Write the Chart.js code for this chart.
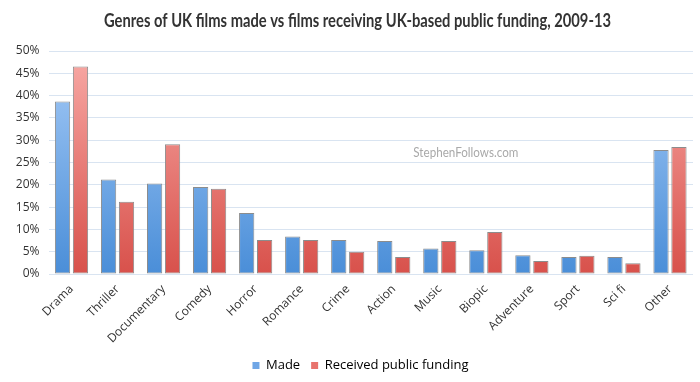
<!DOCTYPE html>
<html><head><meta charset="utf-8">
<script src="https://cdn.jsdelivr.net/npm/chart.js@4"></script>
<style>html,body{margin:0;padding:0;background:#fff}#wrap{width:700px;height:382px}</style>
</head><body><div id="wrap"><canvas id="c" width="700" height="382"></canvas></div>
<script>
const categories = ["Drama","Thriller","Documentary","Comedy","Horror","Romance","Crime","Action","Music","Biopic","Adventure","Sport","Sci fi","Other"];
const made = [38.7,21.2,20.3,19.5,13.7,8.4,7.6,7.4,5.7,5.3,4.2,3.8,3.8,27.8];
const funded = [46.5,16.2,29.1,19.1,7.6,7.6,5.0,3.8,7.4,9.4,2.9,4.1,2.4,28.5];
const yTicks = [0,5,10,15,20,25,30,35,40,45,50];
const seriesNames = ["Made","Received public funding"];
const titleText = 'Genres of UK films made vs films receiving UK-based public funding, 2009-13';
const watermarkText = 'StephenFollows.com';

function grad(top, bottom){
  return function(ctx){
    const ca = ctx.chart.chartArea;
    if(!ca) return bottom;
    const g = ctx.chart.ctx.createLinearGradient(0, ca.top, 0, ca.bottom);
    g.addColorStop(0, top); g.addColorStop(1, bottom);
    return g;
  };
}
function condensedText(c, text, font, cx, cy, targetW, color){
  c.save();
  c.font = font; c.fillStyle = color;
  c.textAlign = 'center'; c.textBaseline = 'middle';
  const w = c.measureText(text).width;
  const s = Math.min(1, targetW / w);
  c.translate(cx, cy); c.scale(s, 1);
  c.fillText(text, 0, 0);
  c.restore();
}
const extras = {
  id:'extras',
  afterLayout(chart){
    if(chart.legend){ chart.legend.left += 14; chart.legend.right += 14; }
  },
  afterDatasetsDraw(chart){
    const c = chart.ctx, x = chart.scales.x, y = chart.scales.y;
    condensedText(c, watermarkText, '14px Lato, "Open Sans", sans-serif',
      (x.getPixelForValue(8)+x.getPixelForValue(9))/2 + 3, y.getPixelForValue(27.2), 105, '#a9a9a9');
  },
  afterDraw(chart){
    condensedText(chart.ctx, titleText, 'bold 18px Lato, "Open Sans", sans-serif', 357.5, 21.5, 507, '#333');
  }
};
new Chart(document.getElementById('c'), {
  type:'bar',
  data:{
    labels: categories,
    datasets:[
      {label:seriesNames[0], data:made, backgroundColor:grad('#a6cbf7','#4a8ed8'), borderColor:'#8c8c8c', borderWidth:1, borderSkipped:false, categoryPercentage:0.78, barPercentage:0.85},
      {label:seriesNames[1], data:funded, backgroundColor:grad('#f8aaa6','#d8514b'), borderColor:'#8c8c8c', borderWidth:1, borderSkipped:false, categoryPercentage:0.78, barPercentage:0.85}
    ]
  },
  options:{
    responsive:false, animation:false,
    layout:{padding:{left:0,right:7,top:51,bottom:0}},
    plugins:{
      title:{display:false},
      legend:{position:'bottom', labels:{boxWidth:7, boxHeight:7, color:'#333', font:{family:'"Open Sans", sans-serif', size:13},
        padding:11,
        generateLabels(chart){
          return [{text:seriesNames[0], fillStyle:'#6fa6e6', strokeStyle:'#7f9fc8', lineWidth:0, datasetIndex:0},
                  {text:seriesNames[1], fillStyle:'#e8736d', strokeStyle:'#c87f7b', lineWidth:0, datasetIndex:1}];
        }}},
      tooltip:{enabled:false}
    },
    scales:{
      x:{grid:{display:false}, border:{display:false},
        afterFit(s){ s.height = 74; },
        ticks:{padding:0, minRotation:45, maxRotation:45, color:'#333', font:{family:'"Open Sans", sans-serif', size:12}}},
      y:{min:0, max:50, afterBuildTicks(s){ s.ticks = yTicks.map(v=>({value:v})); },
        afterFit(s){ s.width = 48.5; },
        grid:{color:'#d9e4f1', drawTicks:false}, border:{display:false},
        ticks:{padding:9, color:'#333', font:{family:'"Open Sans", sans-serif', size:12}, callback:v=>v+'%'}}
    }
  },
  plugins:[extras]
});
</script></body></html>
